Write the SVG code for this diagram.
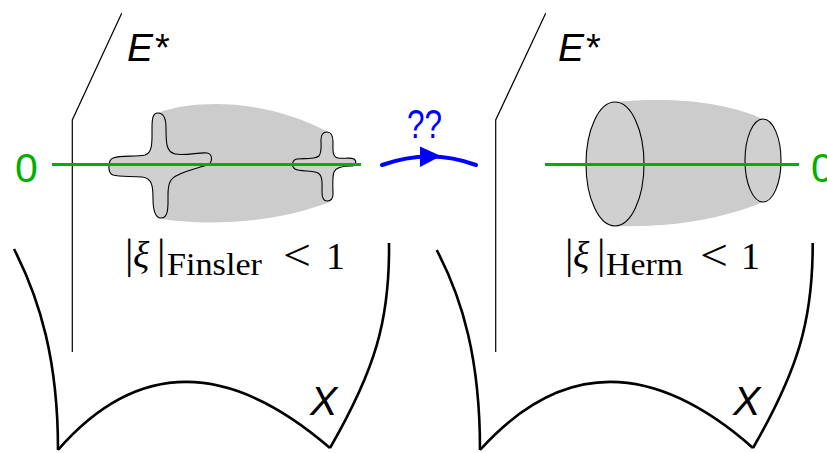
<svg xmlns="http://www.w3.org/2000/svg" width="827" height="453" viewBox="0 0 827 453">
<style>
.thin{fill:none;stroke:#000;stroke-width:1.2}
.thick{fill:none;stroke:#000;stroke-width:2.6;stroke-linejoin:miter}
.green{stroke:#00b000;stroke-width:3;fill:none}
.shade{fill:#cccccc;stroke:none}
.ball{fill:#d0d0d0;stroke:#000;stroke-width:1.1}
.it{font-family:"Liberation Sans",Arial,sans-serif;font-style:italic;fill:#000}
.sans{font-family:"Liberation Sans",Arial,sans-serif}
.math{font-family:"Liberation Serif","Times New Roman",serif;fill:#000}
</style>

<g id="left-panel">
  <g id="left-base">
    <path class="thick" d="M14,249 C40,300 58,360 58,450"/>
    <path class="thick" d="M58,450 Q176,315 330,448"/>
    <path class="thick" d="M330,448 C375,370 390,320 389,243"/>
    <text class="it" x="310" y="415" font-size="41">X</text>
  </g>
  <g id="left-fiber">
    <path class="thin" d="M121.7,13.3 L72.3,120 L72.3,352"/>
    <text class="it" x="127" y="60.7" font-size="39">E</text>
    <text class="sans" x="155" y="61" font-size="38">*</text>
  </g>
  <g id="finsler-ball">
    <path class="shade" d="M157,113 C200,98 270,100 330,133 L330,202 C270,225 200,226 157,218 Z"/>
    <path class="ball" d="M158,113 C163,113 166,118 166,128 C166,142 166,152 175,154 C185,156 200,152 207,153 C213,154 213,163 207,165 C198,168 185,171 178,175 C170,178 168,184 168,195 C168,205 169,218 161,218 C154,218 153,208 153,198 C153,186 152,178 142,177 C130,176 120,177 113,175 C107,173 108,160 113,158 C120,155 135,157 145,155 C153,153 152,140 152,128 C152,118 153,113 158,113 Z"/>
    <path class="ball" d="M327,132 C331,132 333,136 333,142 C333,150 332,157 338,158 C344,159 350,157 354,159 C357,161 356,166 351,166 C345,166 336,167 334,172 C332,178 333,188 333,194 C333,199 331,201 327,201 C323,201 322,198 322,192 C322,184 323,176 318,173 C312,170 300,172 295,169 C291,166 292,160 297,159 C304,158 314,160 319,156 C322,152 321,146 321,140 C321,135 323,132 327,132 Z"/>
  </g>
  <g id="left-zero">
    <line class="green" x1="52" y1="164.5" x2="361" y2="164.5"/>
    <text class="sans" x="15" y="181.5" font-size="41" fill="#00b000">0</text>
  </g>
  <g id="finsler-label">
    <text class="math" font-size="42" x="125" y="268">|</text>
    <text class="math" font-size="38" x="133" y="268" font-style="italic">ξ</text>
    <text class="math" font-size="42" x="157" y="268">|</text>
    <text class="math" font-size="31" x="167" y="275" textLength="95" lengthAdjust="spacingAndGlyphs">Finsler</text>
    <text class="math" font-size="44" x="283" y="270" textLength="28" lengthAdjust="spacingAndGlyphs">&lt;</text>
    <text class="math" font-size="38" x="326" y="269">1</text>
  </g>
</g>

<g id="right-panel">
  <g id="right-base">
    <path class="thick" d="M436.7,250 C463,300 480,360 480,450"/>
    <path class="thick" d="M480,450 Q602,315 753,448"/>
    <path class="thick" d="M753,448 C798,370 813,320 812.7,243"/>
    <text class="it" x="733" y="415" font-size="41">X</text>
  </g>
  <g id="right-fiber">
    <path class="thin" d="M545.7,13.3 L495.7,120 L495.7,352"/>
    <text class="it" x="558" y="60.7" font-size="39">E</text>
    <text class="sans" x="586" y="61" font-size="38">*</text>
  </g>
  <g id="herm-ball">
    <path class="shade" d="M615,102 C680,96 730,104 763,119 L763,202 C730,216 680,228 615,226 Z"/>
    <ellipse class="ball" cx="615" cy="164" rx="29" ry="62"/>
    <ellipse class="ball" cx="763" cy="160.5" rx="18" ry="41.5"/>
  </g>
  <g id="right-zero">
    <line class="green" x1="545" y1="164.5" x2="799" y2="164.5"/>
    <text class="sans" x="811" y="181.5" font-size="41" fill="#00b000">0</text>
  </g>
  <g id="herm-label">
    <text class="math" font-size="42" x="565" y="268">|</text>
    <text class="math" font-size="38" x="573" y="268" font-style="italic">ξ</text>
    <text class="math" font-size="42" x="597" y="268">|</text>
    <text class="math" font-size="31" x="606" y="275" textLength="77" lengthAdjust="spacingAndGlyphs">Herm</text>
    <text class="math" font-size="44" x="700" y="270" textLength="28" lengthAdjust="spacingAndGlyphs">&lt;</text>
    <text class="math" font-size="38" x="741" y="269">1</text>
  </g>
</g>

<g id="connectors">
  <path d="M382,165 Q430,148 476,165" fill="none" stroke="#00f" stroke-width="4" stroke-linecap="round"/>
  <path d="M441,156 L420,146.5 L420,167 Z" fill="#00f"/>
  <text class="sans" x="407" y="138" font-size="40" fill="#00f" textLength="35" lengthAdjust="spacingAndGlyphs">??</text>
</g>
</svg>
